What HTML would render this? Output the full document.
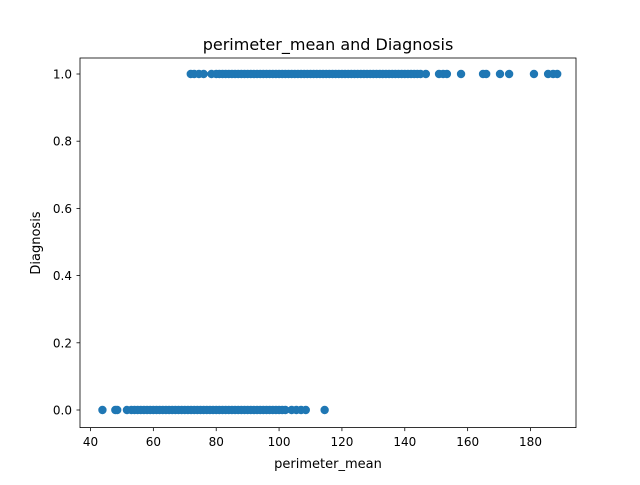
<!DOCTYPE html>
<html><head><meta charset="utf-8"><style>
body{margin:0;background:#fff;font-family:"Liberation Sans","DejaVu Sans",sans-serif}
svg text{font-family:"DejaVu Sans","Liberation Sans",sans-serif;fill:#000}
</style></head><body>
<svg id="c" width="640" height="480">
<rect x="0" y="0" width="640" height="480" fill="#fff"/>
<g id="pts"></g>
<rect x="80" y="58" width="496" height="369.6" fill="none" stroke="#000" stroke-width="0.8"/>
<g id="ax"></g>
<text x="328" y="50" font-size="16" text-anchor="middle">perimeter_mean and Diagnosis</text>
<text x="328" y="468" font-size="13" text-anchor="middle">perimeter_mean</text>
<text x="40" y="243" font-size="13" text-anchor="middle" transform="rotate(-90 40 243)">Diagnosis</text>
</svg>
<script>
const xTicks=[40,60,80,100,120,140,160,180];
const yTicks=[0.0,0.2,0.4,0.6,0.8,1.0];
const benignX=[43.8,47.9,48.5,51.6,53,54,55,56,57,58,59,60,61,62,63,64,65,66,67,68,69,70,71,72,73,74,75,76,77,78,79,80,81,82,83,84,85,86,87,88,89,90,91,92,93,94,95,96,97,98,99,100,101,102,104,105.5,107,108.5,114.5];
const benignY=benignX.map(()=>0);
const malignantX=[71.9,73,74.5,76,78.5,80,81,82,83,84,85,86,87,88,89,90,91,92,93,94,95,96,97,98,99,100,101,102,103,104,105,106,107,108,109,110,111,112,113,114,115,116,117,118,119,120,121,122,123,124,125,126,127,128,129,130,131,132,133,134,135,136,137,138,139,140,141,142,143,144,145,146.7,150.9,152.2,153.4,157.9,164.9,165.9,170.3,173.2,181.1,185.6,187.2,188.5];
const malignantY=malignantX.map(()=>1);
const sx=v=>90.5+(v-40)*440/140;
const sy=v=>410-v*336;
const NS="http://www.w3.org/2000/svg";
const pts=document.getElementById('pts'),ax=document.getElementById('ax');
function dot(x,y){const c=document.createElementNS(NS,'circle');
c.setAttribute('cx',sx(x));c.setAttribute('cy',sy(y));c.setAttribute('r',4.2);c.setAttribute('fill','#1f77b4');


pts.appendChild(c);}
benignX.forEach((x,i)=>dot(x,benignY[i]));
malignantX.forEach((x,i)=>dot(x,malignantY[i]));
xTicks.forEach(t=>{const l=document.createElementNS(NS,'line');const X=sx(t);
l.setAttribute('x1',X);l.setAttribute('x2',X);l.setAttribute('y1',427.6);l.setAttribute('y2',431.1);l.setAttribute('stroke','#000');l.setAttribute('stroke-width','0.8');


ax.appendChild(l);
const tx=document.createElementNS(NS,'text');tx.setAttribute('x',X);tx.setAttribute('y',446);tx.setAttribute('font-size','12');tx.setAttribute('text-anchor','middle');tx.textContent=t;


ax.appendChild(tx);});
yTicks.forEach(t=>{const l=document.createElementNS(NS,'line');const Y=sy(t);
l.setAttribute('x1',76.5);l.setAttribute('x2',80);l.setAttribute('y1',Y);l.setAttribute('y2',Y);l.setAttribute('stroke','#000');l.setAttribute('stroke-width','0.8');


ax.appendChild(l);
const tx=document.createElementNS(NS,'text');tx.setAttribute('x',72);tx.setAttribute('y',Y+4.5);tx.setAttribute('font-size','12');tx.setAttribute('text-anchor','end');tx.textContent=t.toFixed(1);


ax.appendChild(tx);});
</script>
</body></html>
